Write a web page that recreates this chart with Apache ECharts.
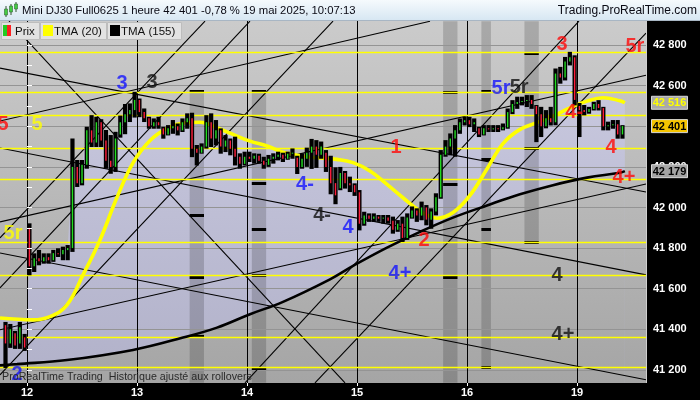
<!DOCTYPE html>
<html><head><meta charset="utf-8">
<script src="https://cdn.jsdelivr.net/npm/echarts@6/dist/echarts.min.js"></script>
<style>html,body{margin:0;padding:0;background:#000;}#c{width:700px;height:400px;}</style>
</head><body><div id="c"></div>
<script>
// ---------- data ----------
const dayLabels = ['12', '13', '14', '15', '16', '19'];
const dayStarts = [0, 23, 46, 69, 92, 115];          // bar index where each day starts
const yLabelVals = [41200, 41400, 41600, 41800, 42000, 42200, 42400, 42600, 42800];
const yTickVals = [41200, 41300, 41400, 41500, 41600, 41700, 41800, 41900, 42000, 42100, 42200, 42300, 42400, 42500, 42600, 42700, 42800, 42900];

// hourly bars [open, close, low, high]
const fri9 = [
  [41420, 41330, 41214, 41431], [41330, 41400, 41313, 41421], [41380, 41320, 41308, 41387],
  [41330, 41410, 41308, 41431], [41360, 41310, 41298, 41372]
];
const mon12 = [
  [41900, 41710, 41671, 41917], [41710, 41750, 41687, 41769], [41750, 41735, 41720, 41786],
  [41735, 41755, 41728, 41769], [41755, 41740, 41728, 41769], [41740, 41775, 41737, 41786],
  [41775, 41770, 41761, 41794], [41770, 41790, 41745, 41802], [41790, 41800, 41745, 41810],
  [41800, 42200, 41786, 42335], [42200, 42120, 42106, 42229], [42120, 42210, 42114, 42229],
  [42210, 42380, 42196, 42393], [42380, 42320, 42303, 42450], [42320, 42420, 42303, 42442],
  [42420, 42330, 42303, 42430], [42330, 42230, 42196, 42377], [42230, 42200, 42171, 42352],
  [42200, 42340, 42180, 42368], [42360, 42420, 42349, 42448], [42420, 42460, 42366, 42505],
  [42460, 42480, 42426, 42508], [42480, 42530, 42448, 42565]
];
const tue13 = [
  [42530, 42470, 42450, 42532], [42470, 42440, 42426, 42483], [42440, 42400, 42393, 42442],
  [42400, 42420, 42393, 42434], [42420, 42405, 42393, 42442], [42390, 42360, 42344, 42393],
  [42360, 42390, 42360, 42401], [42390, 42400, 42368, 42426], [42400, 42380, 42360, 42409],
  [42380, 42420, 42377, 42434], [42420, 42440, 42393, 42459], [42440, 42290, 42253, 42462],
  [42290, 42270, 42212, 42303], [42270, 42300, 42270, 42311], [42300, 42420, 42295, 42450],
  [42420, 42340, 42303, 42459], [42340, 42380, 42311, 42426], [42380, 42300, 42270, 42385],
  [42300, 42330, 42278, 42352], [42330, 42290, 42262, 42335], [42290, 42250, 42212, 42344],
  [42250, 42215, 42196, 42262], [42215, 42250, 42212, 42270]
];
const wed14 = [
  [42250, 42240, 42229, 42270], [42240, 42255, 42221, 42262], [42255, 42230, 42221, 42260],
  [42230, 42210, 42196, 42245], [42210, 42240, 42205, 42254], [42240, 42250, 42221, 42262],
  [42250, 42260, 42237, 42270], [42260, 42240, 42229, 42265], [42240, 42265, 42240, 42270],
  [42265, 42270, 42245, 42286], [42245, 42200, 42170, 42250], [42200, 42240, 42196, 42262],
  [42240, 42270, 42205, 42290], [42270, 42300, 42195, 42333], [42300, 42260, 42200, 42327],
  [42260, 42300, 42245, 42320], [42270, 42200, 42180, 42278], [42200, 42120, 42070, 42250],
  [42120, 42060, 42021, 42193], [42095, 42170, 42090, 42195], [42170, 42120, 42098, 42175],
  [42120, 42110, 42081, 42147], [42110, 42075, 42062, 42114]
];
const thu15 = [
  [42075, 41920, 41892, 42081], [41920, 41960, 41915, 41974], [41960, 41945, 41934, 41966],
  [41945, 41955, 41934, 41966], [41955, 41945, 41934, 41958], [41945, 41950, 41925, 41958],
  [41950, 41935, 41925, 41958], [41935, 41890, 41876, 41950], [41890, 41920, 41885, 41933],
  [41920, 41850, 41835, 41950], [41850, 41950, 41845, 41966], [41950, 41985, 41950, 42000],
  [41985, 41960, 41934, 41991], [41960, 42000, 41942, 42024], [42000, 41940, 41917, 42007],
  [41940, 41980, 41900, 41991], [41980, 42050, 41966, 42065], [42050, 42260, 42048, 42278],
  [42260, 42300, 42255, 42327], [42300, 42340, 42262, 42360], [42340, 42380, 42255, 42401],
  [42380, 42420, 42368, 42434], [42420, 42430, 42409, 42442]
];
const fri16 = [
  [42430, 42410, 42401, 42442], [42410, 42420, 42377, 42434], [42390, 42360, 42352, 42393],
  [42360, 42390, 42360, 42401], [42390, 42385, 42377, 42401], [42385, 42390, 42377, 42401],
  [42390, 42385, 42377, 42401], [42385, 42395, 42385, 42409], [42395, 42470, 42393, 42483],
  [42470, 42510, 42465, 42524], [42510, 42520, 42491, 42541], [42520, 42525, 42508, 42541],
  [42525, 42530, 42500, 42549], [42530, 42510, 42491, 42549], [42500, 42460, 42327, 42500],
  [42460, 42400, 42352, 42491], [42400, 42440, 42395, 42475], [42440, 42420, 42409, 42491],
  [42420, 42660, 42410, 42680], [42660, 42640, 42615, 42688], [42640, 42720, 42631, 42737],
  [42720, 42740, 42705, 42762], [42740, 42530, 42508, 42745]
];
const mon19 = [
  [42500, 42480, 42352, 42510], [42480, 42470, 42459, 42500], [42470, 42485, 42467, 42491],
  [42485, 42510, 42483, 42516], [42510, 42490, 42483, 42524], [42490, 42400, 42385, 42491],
  [42400, 42405, 42385, 42418], [42405, 42410, 42393, 42426], [42410, 42360, 42344, 42426],
  [42360, 42401, 42344, 42401]
];

// moving averages [bar position, value]
const tma20 = [
  [-5.65, 41455], [1.25, 41446], [4.81, 41462], [8.36, 41520], [11.71, 41668], [15.26, 41840],
  [18.82, 42050], [22.16, 42220], [25.72, 42330], [29.27, 42390], [32.62, 42416], [36.17, 42420],
  [39.72, 42393], [43.07, 42360], [46.62, 42327], [50.18, 42303], [53.52, 42272], [57.08, 42255],
  [60.63, 42245], [64.81, 42237], [68.16, 42221], [71.71, 42180], [75.27, 42114], [78.61, 42048],
  [82.17, 41983], [85.72, 41947], [89.07, 41975], [92.62, 42060], [96.17, 42190], [99.52, 42315],
  [103.07, 42385], [106.63, 42418], [109.97, 42450], [113.53, 42491], [117.08, 42524],
  [120.43, 42541], [123.98, 42526], [125.0, 42516]
];
const tma155 = [
  [-5.65, 41222], [-2.09, 41228], [8.36, 41248], [22.16, 41298], [32.62, 41359], [39.72, 41408],
  [46.62, 41474], [53.52, 41535], [63.35, 41646], [68.16, 41712], [75.27, 41802], [82.17, 41880],
  [89.07, 41950], [96.17, 42010], [103.07, 42065], [109.97, 42110], [117.08, 42147],
  [123.98, 42171], [125.0, 42179]
];

// horizontal levels (yellow)
const levels = [42766, 42569, 42454, 42294, 42139, 41830, 41666, 41359, 41211];

// trend lines [[bar, price], [bar, price]]
const trendlines = [
  [[-3.76, 42918], [66.49, 41136]],
  [[-5.65, 41850], [37.22, 42918]],
  [[-5.65, 41604], [46.62, 42918]],
  [[-5.65, 41175], [63.98, 42918]],
  [[45.58, 41136], [115.41, 42918]],
  [[60.21, 41136], [129.42, 42859]],
  [[-5.65, 42687], [129.42, 42076]],
  [[-5.65, 42293], [129.42, 41668]],
  [[-5.65, 41776], [129.42, 41151]],
  [[-5.65, 42426], [84.26, 42918]],
  [[-5.65, 41929], [129.42, 42652]],
  [[-5.65, 41397], [129.42, 42116]]
];

// time zones [barFrom, barTo, priceTop, priceBottom] and their marks [barFrom, barTo, price]
const zones = [
  [34, 37, 42573, 41136], [47, 50, 42573, 41136], [87, 90, 42918, 41136],
  [95, 97, 42918, 41215], [104, 107, 42918, 41825]
];
const zoneMarks = [
  [34, 37, 42573], [34, 37, 41963], [34, 37, 41658], [34, 37, 41367],
  [47, 50, 42573], [47, 50, 42121], [47, 50, 41894], [47, 50, 41668], [47, 50, 41210],
  [87, 90, 42569], [87, 90, 42116], [87, 90, 41658],
  [95, 97, 42573], [95, 97, 42239], [95, 97, 41894], [95, 97, 41215],
  [104, 107, 42761], [104, 107, 42293], [104, 107, 41830]
];

// wave labels [bar, price, text, colour key]
const waveLabels = [
  [-5.02, 42411, '5', 'r'], [2.09, 42411, '5', 'y'], [19.86, 42613, '3', 'b'], [26.13, 42618, '3', 'k'],
  [-2.93, 41874, '5r', 'y'], [-2.09, 41175, '2', 'b'], [58.12, 42111, '4-', 'b'], [61.68, 41963, '4-', 'k'],
  [67.11, 41899, '4', 'b'], [77.15, 42298, '1', 'r'], [83.0, 41835, '2', 'r'], [77.98, 41677, '4+', 'b'],
  [99.1, 42588, '5r', 'b'], [102.9, 42593, '5r', 'k'], [111.85, 42805, '3', 'r'], [114.4, 42470, '4-', 'r'],
  [122.1, 42298, '4', 'r'], [124.82, 42150, '4+', 'r'], [127.1, 42795, '5r', 'r'],
  [110.8, 41663, '4', 'k'], [112.06, 41372, '4+', 'k']
];

const titleText = 'Mini DJ30 Full0625 1 heure 42 401 -0,78 % 19 mai 2025, 10:07:13';

// ---------- build ----------
const bars = [];
fri9.forEach((b, i) => bars.push([-5 + i + 0.5, b[0], b[1], b[2], b[3]]));
[mon12, tue13, wed14, thu15, fri16, mon19].forEach((day, d) => {
  day.forEach((b, i) => bars.push([dayStarts[d] + i + 0.5, b[0], b[1], b[2], b[3]]));
});
const closes = bars.map(b => [b[0], b[2]]);

const colorMap = { r: '#ff0a0a', y: '#ffff00', b: '#1414ff', k: '#111111' };
const fmt = v => { const s = String(Math.round(v)); return s.slice(0, s.length - 3) + ' ' + s.slice(-3); };

const bgGrad = () => ({ type: 'linear', x: 0, y: 21, x2: 0, y2: 383, global: true,
  colorStops: [{ offset: 0, color: '#cbcbcb' }, { offset: 1, color: '#a5a5a5' }] });
const lavGrad = () => ({ type: 'linear', x: 0, y: 21, x2: 0, y2: 383, global: true,
  colorStops: [{ offset: 0, color: '#cdcde3' }, { offset: 1, color: '#b1b1c9' }] });

const XMIN = -5.65, XMAX = 129.42, YMIN = 41135, YMAX = 42919;
const FONT = '"Liberation Sans", Arial, sans-serif';

const chart = echarts.init(document.getElementById('c'), null, { renderer: 'canvas' });
const option = {
  animation: false,
  backgroundColor: '#000',
  grid: { left: 0, right: 54, top: 21, bottom: 17, show: true, backgroundColor: bgGrad(), borderWidth: 0 },
  xAxis: {
    type: 'value', min: XMIN, max: XMAX, z: 12,
    axisLine: { show: false }, splitLine: { show: false },
    axisTick: { show: true, length: 3, lineStyle: { color: '#fff' }, customValues: dayStarts },
    axisLabel: { color: '#fff', fontSize: 11, fontWeight: 'bold', fontFamily: FONT, margin: 4,
      customValues: dayStarts, formatter: v => dayLabels[dayStarts.indexOf(v)] || '' }
  },
  yAxis: {
    type: 'value', position: 'right', min: YMIN, max: YMAX, z: 12,
    axisLine: { show: false }, splitLine: { show: false },
    axisTick: { show: true, length: 5, lineStyle: { color: '#fff' }, customValues: yTickVals },
    axisLabel: { color: '#fff', fontSize: 11, fontWeight: 'bold', fontFamily: FONT, margin: 7,
      customValues: yLabelVals, formatter: v => fmt(v) }
  },
  series: [
    { type: 'line', name: 'tma20fill', data: tma20, smooth: 0.4, showSymbol: false, z: 1,
      lineStyle: { width: 0 }, areaStyle: { color: lavGrad(), opacity: 1, origin: 'start' } },
    { type: 'line', name: 'closefill', data: closes, showSymbol: false, z: 1,
      lineStyle: { width: 0 }, areaStyle: { color: lavGrad(), opacity: 1, origin: 'start' } },
    { type: 'line', name: 'cover', data: tma155, smooth: 0.4, showSymbol: false, z: 2,
      lineStyle: { width: 0 }, areaStyle: { color: bgGrad(), opacity: 1, origin: 'start' } },
    { type: 'line', name: 'zones', data: [], z: 3,
      markArea: { silent: true, z: 3, itemStyle: { color: 'rgba(0,0,0,0.17)' },
        data: zones.map(z => [{ coord: [z[0], z[2]] }, { coord: [z[1], z[3]] }]) } },
    { type: 'line', name: 'grid', data: [], z: 4,
      markLine: { silent: true, z: 4, symbol: ['none', 'none'], label: { show: false },
        lineStyle: { color: '#949494', width: 1, type: 'solid' },
        data: yLabelVals.map(v => ({ yAxis: v })) } },
    { type: 'line', name: 'days', data: [], z: 5,
      markLine: { silent: true, z: 5, symbol: ['none', 'none'], label: { show: false },
        lineStyle: { color: '#000', width: 1, type: 'solid' },
        data: dayStarts.map(v => ({ xAxis: v })) } },
    { type: 'line', name: 'trend', data: [], z: 5,
      markLine: { silent: true, z: 5, symbol: ['none', 'none'], label: { show: false },
        lineStyle: { color: '#000', width: 1.1, type: 'solid' },
        data: trendlines.map(t => [{ coord: t[0] }, { coord: t[1] }]) } },
    { type: 'line', name: 'marks', data: [], z: 5,
      markLine: { silent: true, z: 5, symbol: ['none', 'none'], label: { show: false },
        lineStyle: { color: '#000', width: 3, type: 'solid' },
        data: zoneMarks.map(m => [{ coord: [m[0], m[2]] }, { coord: [m[1], m[2]] }]) } },
    { type: 'line', name: 'levels', data: [], z: 6,
      markLine: { silent: true, z: 6, symbol: ['none', 'none'], label: { show: false },
        lineStyle: { color: '#ffff00', width: 1.4, type: 'solid' },
        data: levels.map(v => ({ yAxis: v })) } },
    { type: 'line', name: 'TMA (155)', data: tma155, smooth: 0.4, showSymbol: false, z: 7,
      lineStyle: { color: '#000', width: 2.6 } },
    { type: 'line', name: 'TMA (20)', data: tma20, smooth: 0.4, showSymbol: false, z: 8,
      lineStyle: { color: '#ffff00', width: 3.6 } },
    { type: 'custom', name: 'Prix', data: bars, z: 9, encode: { x: 0, y: [1, 2, 3, 4] },
      renderItem: function (params, api) {
        const v = api.value(0), o = api.value(1), c = api.value(2), l = api.value(3), h = api.value(4);
        const ph = api.coord([v, h]), pl = api.coord([v, l]), po = api.coord([v, o]), pc = api.coord([v, c]);
        const bw = api.size([1, 0])[0];
        const w = bw * 0.88;
        const top = Math.min(po[1], pc[1]), bot = Math.max(po[1], pc[1]);
        return { type: 'group', children: [
          { type: 'rect', shape: { x: ph[0] - w / 2, y: ph[1] - 1, width: w, height: pl[1] - ph[1] + 2 }, style: { fill: '#000' } },
          { type: 'rect', shape: { x: ph[0] - 0.7, y: top, width: 1.4, height: Math.max(bot - top, 1) },
            style: { fill: c >= o ? '#22dd22' : '#ff1e3c' } }
        ] };
      } },
    { type: 'scatter', name: 'labels', z: 11, symbolSize: 0.1, itemStyle: { color: 'rgba(0,0,0,0)' },
      label: { show: true, position: 'inside', formatter: '{b}', fontSize: 20, fontWeight: 'bold', fontFamily: FONT,
        textShadowColor: 'rgba(0,0,0,0.45)', textShadowOffsetX: 1, textShadowOffsetY: 1, textShadowBlur: 0 },
      data: waveLabels.map(l => ({ name: l[2], value: [l[0], l[1]], label: { color: colorMap[l[3]] } })) }
  ]
};
chart.setOption(option);

// ---------- overlays (title, legend, price tags) ----------
const yPix = v => chart.convertToPixel({ yAxisIndex: 0 }, v);
const lastClose = closes[closes.length - 1][1];
const lastT20 = tma20[tma20.length - 1][1];
const lastT155 = tma155[tma155.length - 1][1];
const tag = (v, fill, textColor) => ([
  { type: 'rect', z: 30, shape: { x: 651.5, y: yPix(v) - 6.5, width: 36, height: 13 },
    style: { fill: fill, stroke: '#d8d8d8', lineWidth: 1 } },
  { type: 'text', z: 31, style: { x: 669.5, y: yPix(v) + 0.5, text: fmt(v), fill: textColor,
    font: 'bold 11px ' + FONT, align: 'center', verticalAlign: 'middle' } }
]);
const legendBox = (x, w, label, sw) => ([
  { type: 'rect', z: 30, shape: { x: x + 0.5, y: 22.5, width: w, height: 17 }, style: { fill: '#e2e2e2', stroke: '#bdbdbd' } },
  ...sw,
  { type: 'text', z: 31, style: { x: x + 14, y: 31.5, text: label, fill: '#111', font: '11.5px ' + FONT, verticalAlign: 'middle' } }
]);
const graphics = [
  { type: 'rect', z: 30, shape: { x: 0, y: 0, width: 700, height: 21 },
    style: { fill: { type: 'linear', x: 0, y: 0, x2: 0, y2: 1, colorStops: [{ offset: 0, color: '#f5fafd' }, { offset: 1, color: '#d6e6f2' }] } } },
  { type: 'line', z: 30, shape: { x1: 0, y1: 20.5, x2: 700, y2: 20.5 }, style: { stroke: '#a8b6c4', lineWidth: 1 } },
  { type: 'line', z: 31, shape: { x1: 6, y1: 6, x2: 6, y2: 17 }, style: { stroke: '#335533', lineWidth: 1 } },
  { type: 'rect', z: 31, shape: { x: 4.5, y: 9, width: 3, height: 6 }, style: { fill: '#44cc44', stroke: '#336633', lineWidth: 0.6 } },
  { type: 'line', z: 31, shape: { x1: 11, y1: 4, x2: 11, y2: 15 }, style: { stroke: '#335533', lineWidth: 1 } },
  { type: 'rect', z: 31, shape: { x: 9.5, y: 6, width: 3, height: 6 }, style: { fill: '#44cc44', stroke: '#336633', lineWidth: 0.6 } },
  { type: 'line', z: 31, shape: { x1: 16, y1: 2, x2: 16, y2: 12 }, style: { stroke: '#335533', lineWidth: 1 } },
  { type: 'rect', z: 31, shape: { x: 14.5, y: 4, width: 3, height: 5 }, style: { fill: '#44cc44', stroke: '#336633', lineWidth: 0.6 } },
  { type: 'text', z: 31, style: { x: 22, y: 11, text: titleText, fill: '#0a0a14', font: '11.3px ' + FONT, verticalAlign: 'middle' } },
  { type: 'text', z: 31, style: { x: 697, y: 11, text: 'Trading.ProRealTime.com', fill: '#0a0a14', font: '12px ' + FONT, align: 'right', verticalAlign: 'middle' } },
  ...legendBox(1, 38, 'Prix', [
    { type: 'rect', z: 31, shape: { x: 3, y: 25, width: 4, height: 11 }, style: { fill: '#22cc22' } },
    { type: 'rect', z: 31, shape: { x: 7, y: 25, width: 4, height: 11 }, style: { fill: '#ff2020' } }]),
  ...legendBox(40, 66, 'TMA (20)', [
    { type: 'rect', z: 31, shape: { x: 43, y: 25, width: 10, height: 11 }, style: { fill: '#ffff00' } }]),
  ...legendBox(107, 74, 'TMA (155)', [
    { type: 'rect', z: 31, shape: { x: 110, y: 25, width: 10, height: 11 }, style: { fill: '#000' } }]),
  { type: 'line', z: 29, shape: { x1: 646.5, y1: 21, x2: 646.5, y2: 383 }, style: { stroke: '#cfcfcf', lineWidth: 1 } },
  { type: 'text', z: 31, style: { x: 2, y: 377, text: 'ProRealTime Trading  Historique ajusté aux rollovers', fill: '#2a2a2a', font: '10.7px ' + FONT, verticalAlign: 'middle' } },
  ...tag(lastT20, '#a9a9a9', '#ffff00'),
  ...tag(lastClose, '#f5c400', '#000'),
  ...tag(lastT155, '#a4a4a4', '#000')
];
chart.setOption({ graphic: graphics });
</script></body></html>
